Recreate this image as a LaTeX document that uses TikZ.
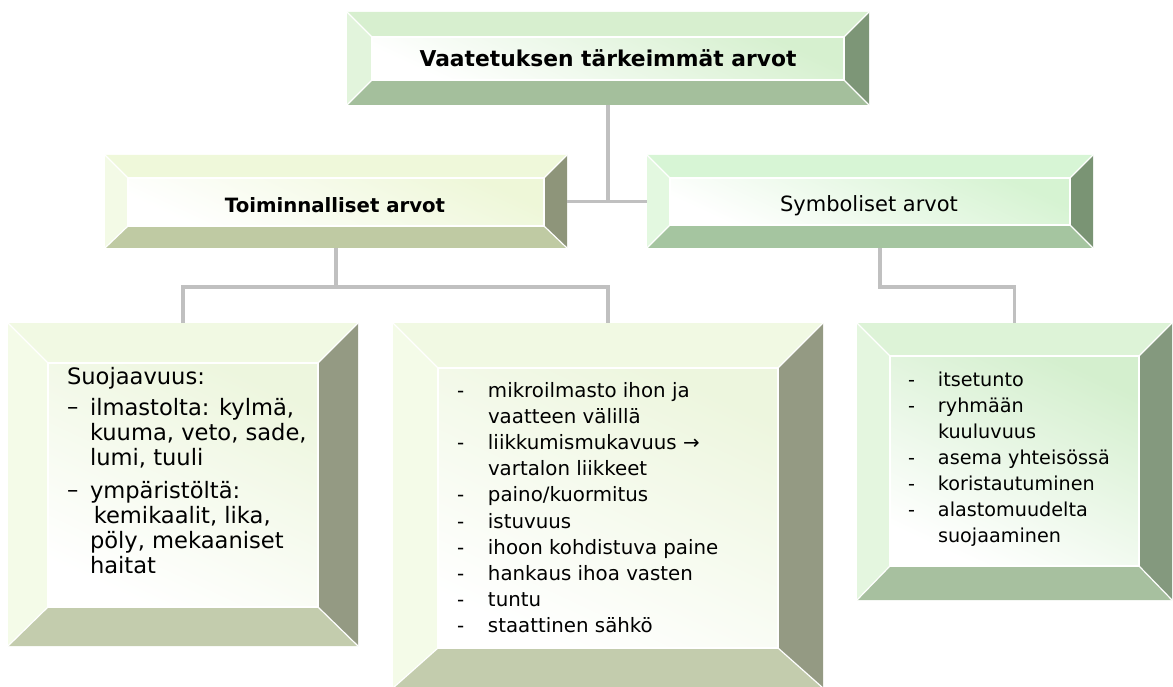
\documentclass[tikz,border=0pt]{standalone}
\usepackage{fontspec}
\setmainfont{DejaVu Sans}
\usetikzlibrary{calc}
\newcommand{\dd}[2][31pt]{\makebox[#1][l]{-}#2}
\newcommand{\de}[2][31pt]{\makebox[#1][l]{\raisebox{1pt}{–}}#2}
\newcommand{\ii}[2][31pt]{\hspace*{#1}#2}
\newcommand{\bevelfaces}[8]{%
  \fill[#4] (#1.north west) -- (#1.north east) -- ($(#1.north east)+(-#2,#2)$) -- ($(#1.north west)+(#2,#2)$) -- cycle;
  \fill[#5] (#1.north west) -- ($(#1.north west)+(#2,#2)$) -- ($(#1.south west)+(#2,-#3)$) -- (#1.south west) -- cycle;
  \fill[#6] (#1.south west) -- ($(#1.south west)+(#2,-#3)$) -- ($(#1.south east)+(-#2,-#3)$) -- (#1.south east) -- cycle;
  \fill[#7] (#1.north east) -- ($(#1.north east)+(-#2,#2)$) -- ($(#1.south east)+(-#2,-#3)$) -- (#1.south east) -- cycle;
  \shade[top color=#8, bottom color=white, shading angle=-25] ($(#1.north west)+(#2,#2)$) rectangle ($(#1.south east)+(-#2,-#3)$);
  \draw[edge] ($(#1.north west)+(#2,#2)$) rectangle ($(#1.south east)+(-#2,-#3)$);
  \draw[edge] (#1.north west) -- ($(#1.north west)+(#2,#2)$);
  \draw[edge] (#1.north east) -- ($(#1.north east)+(-#2,#2)$);
  \draw[edge] (#1.south west) -- ($(#1.south west)+(#2,-#3)$);
  \draw[edge] (#1.south east) -- ($(#1.south east)+(-#2,-#3)$);
}
\definecolor{gTop}{HTML}{D7EFCF}\definecolor{gLeft}{HTML}{E2F4DC}\definecolor{gBot}{HTML}{A4BF9C}\definecolor{gRight}{HTML}{7D9677}\definecolor{gFace}{HTML}{D6F0CF}
\definecolor{yTop}{HTML}{EFF8DA}\definecolor{yLeft}{HTML}{F3FAE6}\definecolor{yBot}{HTML}{BFCAA3}\definecolor{yRight}{HTML}{8E957A}\definecolor{yFace}{HTML}{EEF7D8}
\definecolor{sTop}{HTML}{D7F5D5}\definecolor{sLeft}{HTML}{E3F8E0}\definecolor{sBot}{HTML}{A5C5A0}\definecolor{sRight}{HTML}{7A9474}\definecolor{sFace}{HTML}{D6F3D2}
\definecolor{lTop}{HTML}{F1F9E3}\definecolor{lLeft}{HTML}{F4FBE8}\definecolor{lBot}{HTML}{C3CCAD}\definecolor{lRight}{HTML}{949A83}\definecolor{lFace}{HTML}{EDF6DE}
\definecolor{rTop}{HTML}{DDF3D7}\definecolor{rLeft}{HTML}{E4F6DF}\definecolor{rBot}{HTML}{A7C09F}\definecolor{rRight}{HTML}{84997E}\definecolor{rFace}{HTML}{D4EFCE}
\definecolor{conn}{HTML}{C0C0C0}
\begin{document}
\begin{tikzpicture}[x=1pt,y=-1pt,
  frame/.style={rectangle, inner sep=0pt, outer sep=0pt},
  edge/.style={white, line width=1.2pt},
  link/.style={conn, line width=3.6pt},
  txt/.style={inner sep=0pt, outer sep=0pt, text=black},
  lst/.style={txt, anchor=north west, align=left}]
\useasboundingbox (0,0) rectangle (1173,687);
% frames
\node[frame, minimum width=522, minimum height=93] (top) at (608,58.5) {};
\node[frame, minimum width=462, minimum height=93] (toim) at (336,201.5) {};
\node[frame, minimum width=446, minimum height=93] (sym) at (870,201.5) {};
\node[frame, minimum width=350, minimum height=323] (b1) at (183,484.5) {};
\node[frame, minimum width=430, minimum height=365] (b2) at (608,505.5) {};
\node[frame, minimum width=315, minimum height=277] (b3) at (1014.5,461.5) {};
% bevels
\bevelfaces{top}{25}{25}{gTop}{gLeft}{gBot}{gRight}{gFace}
\bevelfaces{toim}{23}{22}{yTop}{yLeft}{yBot}{yRight}{yFace}
\bevelfaces{sym}{23}{23}{sTop}{sLeft}{sBot}{sRight}{sFace}
\bevelfaces{b1}{40}{39}{lTop}{lLeft}{lBot}{lRight}{lFace}
\bevelfaces{b2}{45}{40}{lTop}{lLeft}{lBot}{lRight}{lFace}
\bevelfaces{b3}{33}{34}{rTop}{rLeft}{rBot}{rRight}{rFace}
% connectors
\coordinate (tj) at ($(toim.south)+(0,39)$);
\coordinate (sd) at ($(sym.south)+(10,0)$);
\coordinate (sj) at ($(sd)+(0,39)$);
\draw[link] (toim.east) -- (sym.west);
\draw[link] (top.south) -- (top.south |- toim.east);
\draw[link] (toim.south) -- (tj);
\draw[link] (b1.north) |- (tj) -| (b2.north);
\draw[link] (sd) -- (sj) -| (b3.north);
% texts
\node[txt, anchor=base, font=\bfseries\fontsize{21.8}{26}\selectfont] (ttop) at (608,67) {Vaatetuksen tärkeimmät arvot};
\node[txt, anchor=base, font=\bfseries\fontsize{19.7}{24}\selectfont] (ttoim) at (335,213) {Toiminnalliset arvot};
\node[txt, anchor=base, font=\fontsize{21}{26}\selectfont] (tsym) at (869,212) {Symboliset arvot};
\node[lst, font=\fontsize{22.6}{25}\selectfont] (t1) at (67,367) {Suojaavuus:\\[6pt]
\de[23pt]{ilmastolta: kylmä,}\\
\ii[23pt]{kuuma, veto, sade,}\\
\ii[23pt]{lumi, tuuli}\\[8pt]
\de[23pt]{ympäristöltä:}\\
\ii[23pt]{\,kemikaalit, lika,}\\
\ii[23pt]{pöly, mekaaniset}\\
\ii[23pt]{haitat}};
\node[lst, font=\fontsize{19.8}{26.2}\selectfont] (t2) at (457,382) {\dd{mikroilmasto ihon ja}\\
\ii{vaatteen välillä}\\
\dd{liikkumismukavuus →}\\
\ii{vartalon liikkeet}\\
\dd{paino/kuormitus}\\
\dd{istuvuus}\\
\dd{ihoon kohdistuva paine}\\
\dd{hankaus ihoa vasten}\\
\dd{tuntu}\\
\dd{staattinen sähkö}};
\node[lst, font=\fontsize{19.2}{26}\selectfont] (t3) at (908,372) {\dd[30pt]{itsetunto}\\
\dd[30pt]{ryhmään}\\
\ii[30pt]{kuuluvuus}\\
\dd[30pt]{asema yhteisössä}\\
\dd[30pt]{koristautuminen}\\
\dd[30pt]{alastomuudelta}\\
\ii[30pt]{suojaaminen}};
\end{tikzpicture}
\end{document}
